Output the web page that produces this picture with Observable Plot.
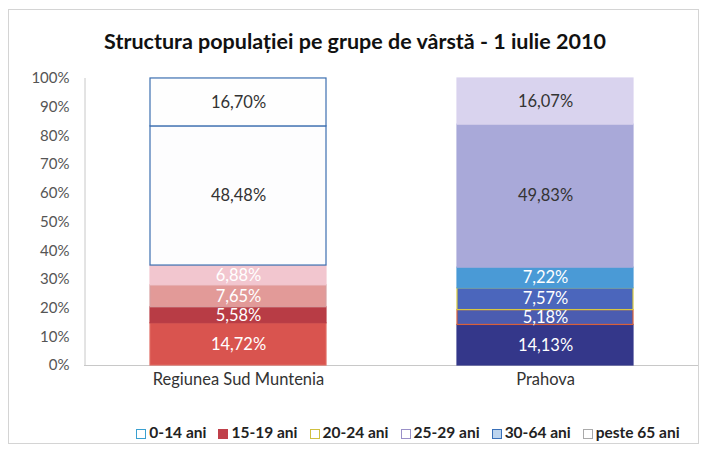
<!DOCTYPE html>
<html><head><meta charset="utf-8">
<script src="https://cdn.jsdelivr.net/npm/d3@7"></script>
<script src="https://cdn.jsdelivr.net/npm/@observablehq/plot@0.6"></script>
<style>
body{margin:0;background:#fff;font-family:Lato,"Open Sans",sans-serif;}
#wrap{position:relative;width:710px;height:455px;overflow:hidden;}
#frame{position:absolute;left:8px;top:9px;width:691px;height:435px;border:1px solid #d4d4d4;box-sizing:border-box;}
#title{position:absolute;left:0;top:28px;width:710px;text-align:center;font-weight:bold;font-size:21.5px;color:#111;}
#chart{position:absolute;left:0;top:60px;}
#legend{position:absolute;left:0;top:423px;width:710px;text-align:center;font-size:15.5px;font-weight:bold;color:#222;padding-left:106px;box-sizing:border-box;white-space:nowrap;}
.li{display:inline-block;margin:0 6px;}
.sw{display:inline-block;width:10px;height:10px;margin-right:3px;vertical-align:-1px;box-sizing:border-box;}
</style></head>
<body><div id="wrap"><div id="frame"></div>
<div id="title">Structura populației pe grupe de vârstă - 1 iulie 2010</div>
<div id="chart"></div>
<div id="legend"></div></div>
<script>
const categories = ["Regiunea Sud Muntenia", "Prahova"];
const groups = ["0-14 ani", "15-19 ani", "20-24 ani", "25-29 ani", "30-64 ani", "peste 65 ani"];
const sudMuntenia = [14.72, 5.58, 7.65, 6.88, 48.48, 16.70];
const prahova = [14.13, 5.18, 7.57, 7.22, 49.83, 16.07];
const yTicks = [0,10,20,30,40,50,60,70,80,90,100];

// styles (not data)
const fills = {
  "Regiunea Sud Muntenia": ["#d9544f", "#b83c45", "#e29a98", "#f2c6cf", "#fdfdfe", "#fefefe"],
  "Prahova": ["#34378a", "#4b5cb0", "#4b66bc", "#4a9ad6", "#a9a9d9", "#d9d3ee"]
};
const strokes = {
  "Regiunea Sud Muntenia": ["#e06a62", "#b83c45", "#d8a0a0", "#f2c6cf", "#3c6fb0", "#3c6fb0"],
  "Prahova": ["#34378a", "#d8603a", "#d8c840", "#4a9ad6", "#a9a9d9", "#d9d3ee"]
};
const textColors = ["#fff","#fff","#fff","#fff","#333","#333"];

const data = [];
categories.forEach((c, ci) => {
  const vals = ci === 0 ? sudMuntenia : prahova;
  groups.forEach((g, gi) => data.push({cat: c, group: g, gi, value: vals[gi]}));
});

const fmt = v => v.toFixed(2).replace(".", ",") + "%";

const plot = Plot.plot({
  width: 710, height: 340,
  marginTop: 18, marginBottom: 35, marginLeft: 84, marginRight: 12,
  style: {fontFamily: "Lato, 'Open Sans', sans-serif", fontSize: "15px", color: "#555"},
  x: {domain: categories, paddingInner: 0.427, paddingOuter: 0.2135, align: 0.5, label: null, tickSize: 0, tickPadding: 8},
  y: {domain: [0, 100], ticks: yTicks, tickFormat: d => d + "%", label: null, tickSize: 0, tickPadding: 15},
  marks: [
    Plot.ruleY([0], {stroke: "#c8c8c8"}),
    Plot.ruleX([categories[0]], {stroke: "#c8c8c8", dx: -153.5}),
    Plot.barY(data, Plot.stackY({x: "cat", y: "value", order: "gi",
      fill: d => fills[d.cat][d.gi], stroke: d => strokes[d.cat][d.gi], strokeWidth: 1.2})),
    Plot.text(data, Plot.stackY({x: "cat", y: "value", order: "gi", text: d => fmt(d.value),
      fill: d => textColors[d.gi], fontSize: 16.5}))
  ]
});
document.getElementById("chart").appendChild(plot);
d3.select(plot).selectAll("[aria-label='x-axis tick label'] text").attr("fill", "#333").style("font-size", "16.5px");
d3.select(plot).selectAll("[aria-label='y-axis tick label'] text").attr("fill", "#555");

const legendSw = [
  {fill: "#fff", stroke: "#3aa0d0"},
  {fill: "#c0404a", stroke: "#c0404a"},
  {fill: "#fff", stroke: "#d0c040"},
  {fill: "#fff", stroke: "#9a90c8"},
  {fill: "#bcd4ee", stroke: "#3a70b8"},
  {fill: "#fff", stroke: "#aaa"}
];
const leg = document.getElementById("legend");
groups.forEach((g, i) => {
  const s = document.createElement("span"); s.className = "li";
  const sw = document.createElement("span"); sw.className = "sw";
  sw.style.background = legendSw[i].fill; sw.style.border = "1.5px solid " + legendSw[i].stroke;
  s.appendChild(sw); s.appendChild(document.createTextNode(g));
  leg.appendChild(s);
});
</script></body></html>
